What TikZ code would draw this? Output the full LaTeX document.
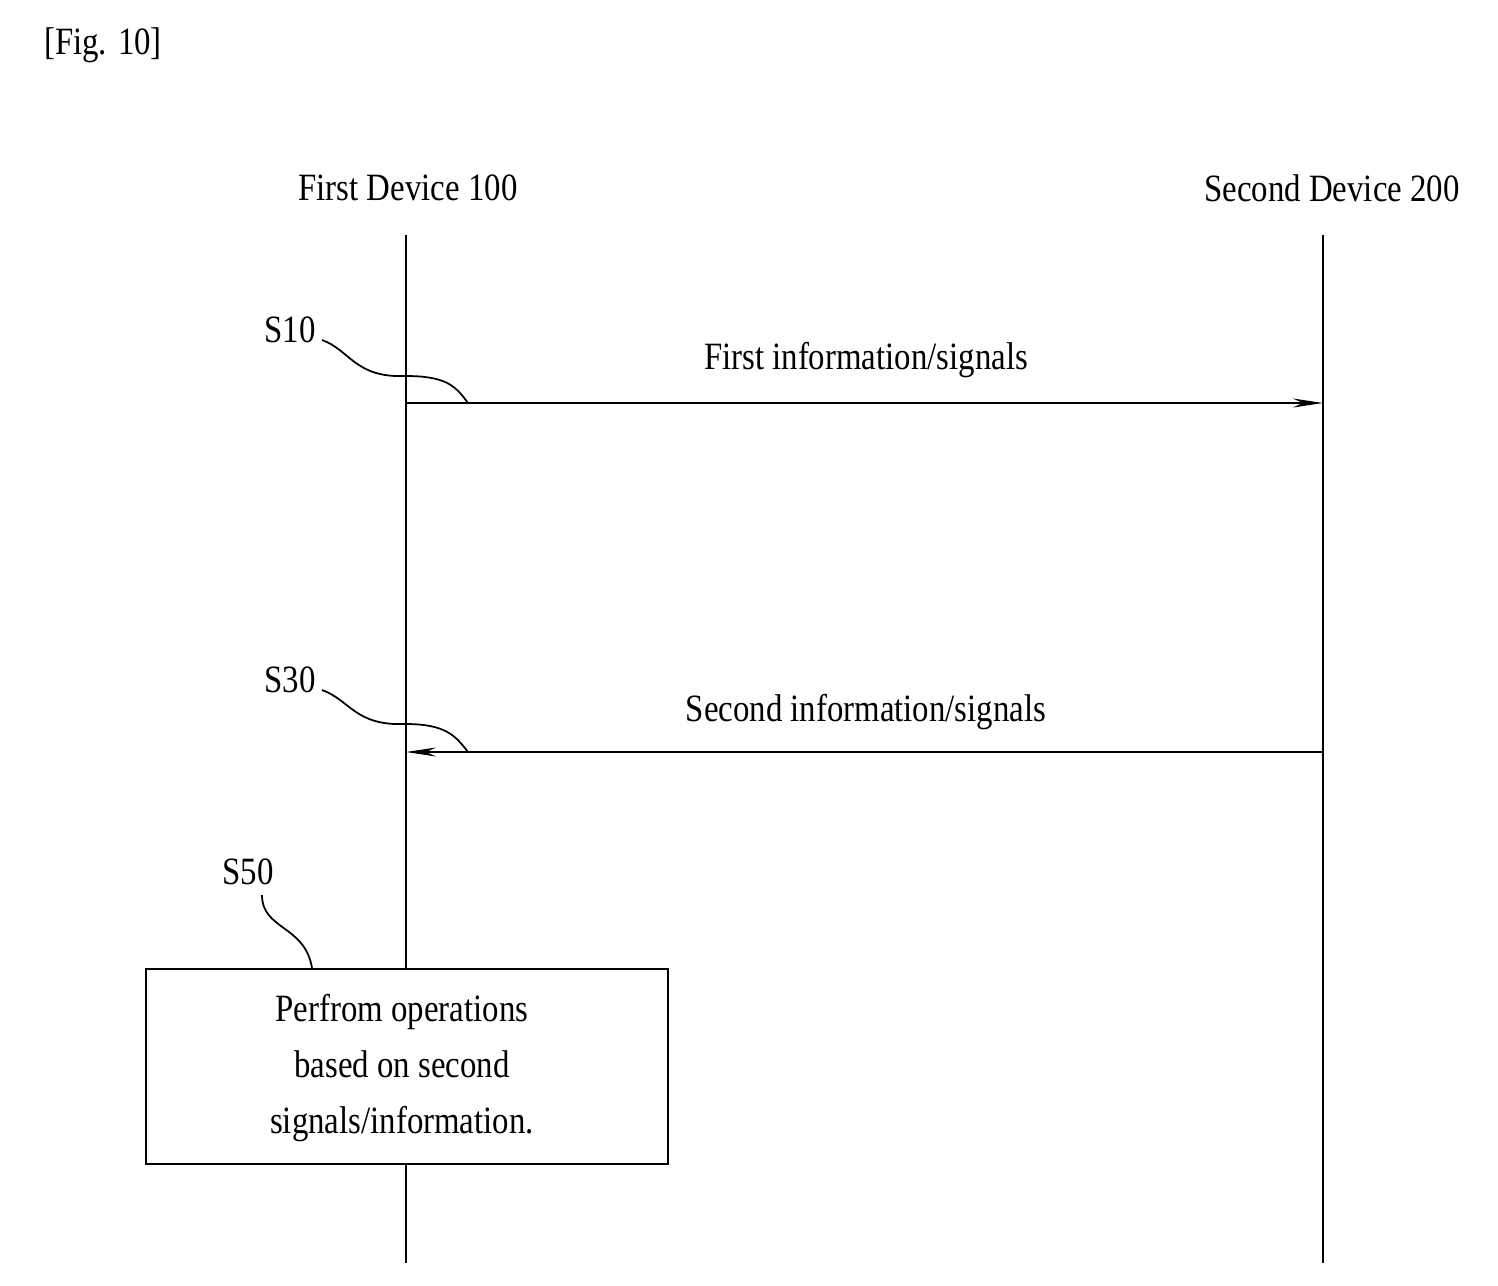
\documentclass[tikz,border=0pt]{standalone}
\usepackage{fontspec}
\setmainfont{Liberation Serif}[FakeStretch=0.85]
\usetikzlibrary{arrows.meta}
\begin{document}
\begin{tikzpicture}[x=0.02cm,y=-0.02cm,
  txt/.style={font=\fontsize{22}{30}\selectfont,inner sep=0},
  ln/.style={line width=1.3pt},
  msg/.style={ln,-{Stealth[length=0.6cm,width=0.18cm]}},
  lead/.style={line width=1pt}]
\useasboundingbox (0,0) rectangle (1498,1285);
\node[txt] (fig) at (103,45) {[Fig. 10]};
\node[txt] (d1) at (408,188) {First Device 100};
\node[txt] (d2) at (1332,188) {Second Device 200};
\coordinate (a1) at (406,235); \coordinate (a2) at (406,1263);
\coordinate (b1) at (1323,235); \coordinate (b2) at (1323,1263);
\draw[ln] (a1) -- (a2);
\draw[ln] (b1) -- (b2);
\coordinate (m1s) at (406,403); \coordinate (m1e) at (1323,403);
\coordinate (m2s) at (1323,752); \coordinate (m2e) at (406,752);
\draw[msg] (m1s) -- (m1e);
\draw[msg] (m2s) -- (m2e);
\node[txt] (l1) at (866,360) {First information/signals};
\node[txt] (l2) at (866,712) {Second information/signals};
\node[txt] (s10) at (290,330) {S10};
\node[txt] (s30) at (290,680) {S30};
\node[txt] (s50) at (248,872) {S50};
\draw[lead] (322,340) .. controls (350,350) and (355,378) .. (405,376) .. controls (445,376) and (455,385) .. (468,403);
\draw[lead] (322,690) .. controls (350,700) and (355,726) .. (405,724) .. controls (445,724) and (455,735) .. (468,752);
\draw[lead] (262,895) .. controls (262,930) and (305,925) .. (312,968);
\node[draw,line width=1.3pt,fill=white,minimum width=522*0.02cm,minimum height=195*0.02cm,inner sep=0] (box) at (407,1066.5) {};
\node[txt,align=center] (bt) at (402,1068) {Perfrom operations\\[2pt]based on second\\[2pt]signals/information.};
\end{tikzpicture}
\end{document}
